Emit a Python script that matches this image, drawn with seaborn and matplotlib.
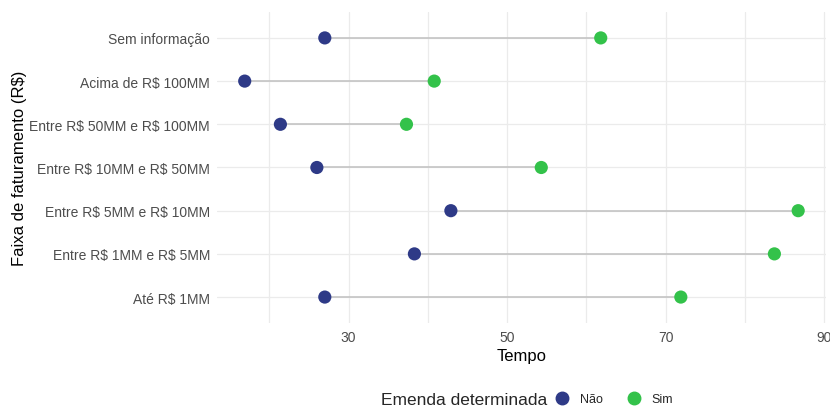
import pandas as pd
import matplotlib.pyplot as plt
import seaborn as sns

# dados
faixas = [
    "Sem informação",
    "Acima de R$ 100MM",
    "Entre R$ 50MM e R$ 100MM",
    "Entre R$ 10MM e R$ 50MM",
    "Entre R$ 5MM e R$ 10MM",
    "Entre R$ 1MM e R$ 5MM",
    "Até R$ 1MM",
]
tempo_nao = [27.0, 16.9, 21.4, 26.0, 42.9, 38.3, 27.0]
tempo_sim = [61.8, 40.8, 37.3, 54.3, 86.7, 83.7, 71.9]
grupos = ["Não", "Sim"]
cores = {"Não": "#2e3a87", "Sim": "#33c24a"}
xticks = [30, 50, 70, 90]
xminor = [20, 40, 60, 80]

df = pd.DataFrame({
    "Faixa": faixas * 2,
    "Tempo": tempo_nao + tempo_sim,
    "Emenda": ["Não"] * len(faixas) + ["Sim"] * len(faixas),
})

sns.set_theme(style="white")
plt.rcParams["font.family"] = ["Liberation Sans", "DejaVu Sans"]
plt.rcParams["text.parse_math"] = False  # os "R$" nao sao mathtext

fig = plt.figure(figsize=(8.3, 4.1), dpi=100)
ax = fig.add_axes([0.2614, 0.2098, 0.7337, 0.7585])

# grade (estilo theme_minimal)
for v in xticks + xminor:
    ax.axvline(v, color="#ebebeb", lw=0.9, zorder=0)
for i in range(len(faixas)):
    ax.axhline(i, color="#ebebeb", lw=0.9, zorder=0)

ax.hlines(y=faixas, xmin=tempo_nao, xmax=tempo_sim, color="#c4c4c4", lw=1.2, zorder=1)
sns.scatterplot(data=df, x="Tempo", y="Faixa", hue="Emenda", hue_order=grupos,
                palette=cores, s=90, edgecolor="none", ax=ax, zorder=2, legend=False)

ax.set_xlim(13.4, 90.2)
ax.set_ylim(6.6, -0.6)
ax.set_xticks(xticks)
ax.tick_params(axis="both", length=0, labelsize=10, colors="#4d4d4d", pad=5)
ax.set_xlabel("Tempo", fontsize=12, color="black", labelpad=3)
ax.set_ylabel("Faixa de faturamento (R$)", fontsize=12, color="black", labelpad=2)
for s in ax.spines.values():
    s.set_visible(False)

# legenda embaixo, titulo a esquerda
handles = [plt.Line2D([], [], marker="o", ls="", color=cores[g], markersize=9) for g in grupos]
fig.text(547 / 830, 0.024, "Emenda determinada", fontsize=12.5, ha="right", va="center")
fig.legend(handles, grupos, loc="center left", bbox_to_anchor=(556 / 830, 0.024), ncol=2,
           frameon=False, fontsize=9, handletextpad=0.9, columnspacing=2.0,
           handlelength=1.0, borderpad=0, borderaxespad=0)

fig.savefig("out.png", dpi=100)
